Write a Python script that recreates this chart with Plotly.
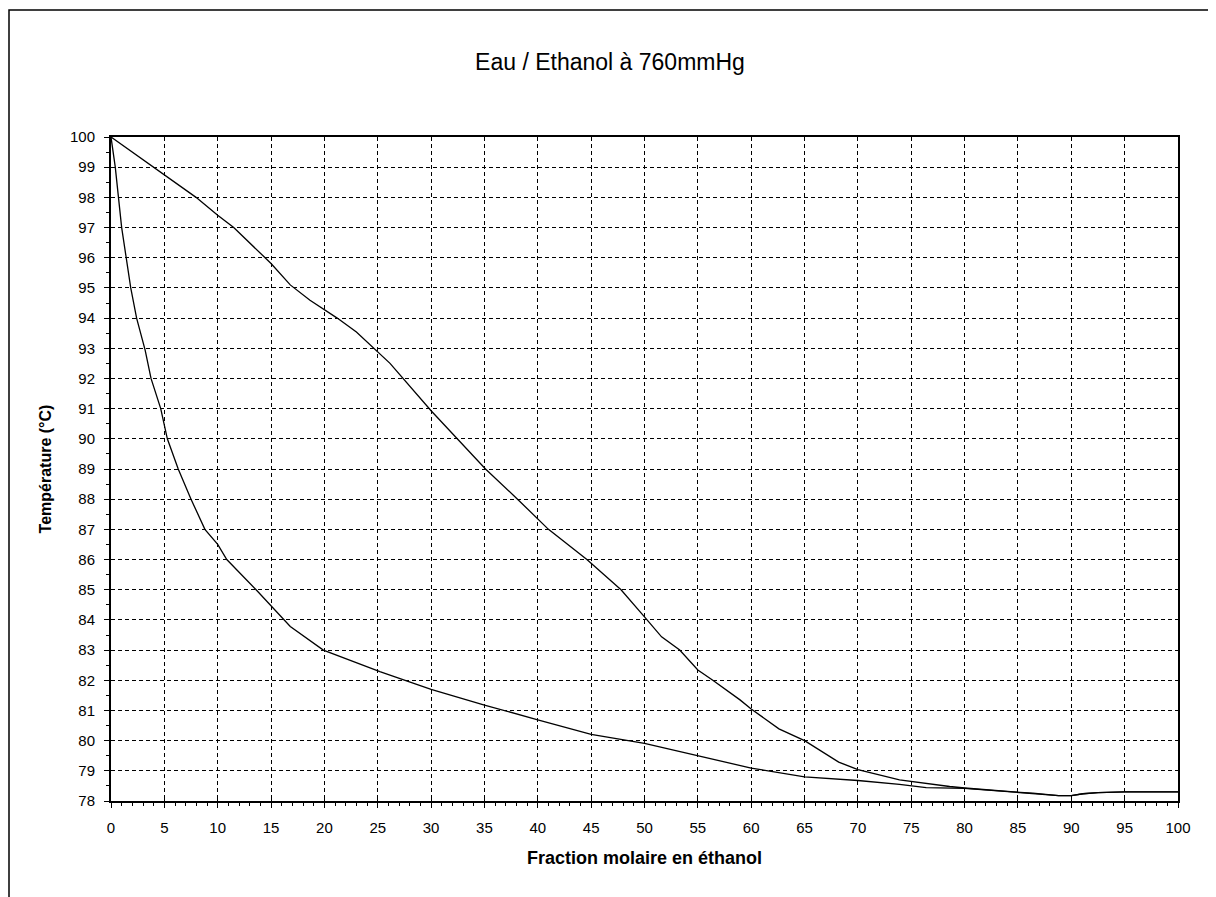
import plotly.graph_objects as go

# Liquid (bubble) curve: x = mole % ethanol, T in °C
liq_x = [0, 0.2, 0.4, 1.0, 1.85, 2.4, 3.2, 3.75, 4.66, 5.28, 6.3, 7.5, 8.8, 10.0, 10.85,
         13.6, 16.15, 16.8, 19.9, 25.2, 30, 35, 40, 45, 50, 55, 60, 65, 70, 73.9, 76.4,
         80, 84.6, 86.4, 88.8, 90, 91.1, 92.5, 95, 100]
liq_t = [100, 99.55, 99.0, 97.0, 95.0, 94.0, 92.94, 92.0, 91.0, 90.0, 89.0, 88.0, 87.0, 86.5, 86.0,
         85.0, 84.0, 83.78, 83.0, 82.29, 81.7, 81.18, 80.69, 80.21, 79.91, 79.49, 79.09, 78.8, 78.68, 78.55, 78.44,
         78.42, 78.3, 78.26, 78.18, 78.18, 78.24, 78.28, 78.3, 78.3]

# Vapour (dew) curve
vap_x = [0, 2.0, 5, 7.97, 10, 11.5, 15, 16.8, 18.65, 20, 21.2, 23.0, 25, 26.15, 30, 32.5,
         35.1, 38.1, 41.0, 44.6, 47.8, 50, 51.6, 53.3, 55, 56.4, 58.95, 60, 62.6, 65, 68.2,
         70, 73.9, 78.6, 80, 84.6, 86.4, 88.8, 90, 91.1, 92.5, 95, 100]
vap_t = [100, 99.5, 98.75, 98.0, 97.41, 97.0, 95.81, 95.1, 94.59, 94.28, 94.0, 93.54, 92.9, 92.5, 90.93, 90.0,
         89.0, 88.0, 87.0, 86.0, 85.0, 84.1, 83.44, 83.0, 82.34, 82.0, 81.35, 81.05, 80.39, 80.0, 79.29,
         79.04, 78.7, 78.48, 78.43, 78.3, 78.26, 78.18, 78.18, 78.24, 78.28, 78.3, 78.3]

title_text = "Eau / Ethanol à 760mmHg"
x_title = "Fraction molaire en éthanol"
y_title = "Température (°C)"

FONT = "Liberation Sans, Arial, sans-serif"

fig = go.Figure()
fig.add_trace(go.Scatter(x=liq_x, y=liq_t, mode="lines",
                         line=dict(color="black", width=1.3), showlegend=False))
fig.add_trace(go.Scatter(x=vap_x, y=vap_t, mode="lines",
                         line=dict(color="black", width=1.3), showlegend=False))
# invisible trace on overlay axes that carry the inner half of the "cross" major ticks
fig.add_trace(go.Scatter(x=[liq_x[0]], y=[liq_t[0]], xaxis="x2", yaxis="y2", mode="markers",
                         marker=dict(opacity=0), hoverinfo="skip", showlegend=False))

# page has an 8px body margin: figure sized/positioned to compensate
OFF = 8
W, H = 1216 - OFF, 897 - OFF
ml, mt = 111 - OFF, 137 - OFF
mr = W - (1178 - OFF)
mb = H - (801 - OFF)
pw, ph = W - ml - mr, H - mt - mb

fig.update_layout(
    width=W, height=H,
    margin=dict(l=ml, r=mr, t=mt, b=mb),
    paper_bgcolor="white", plot_bgcolor="white",
    font=dict(family=FONT, color="black"),
    title=dict(text=title_text, x=(610 - OFF) / W, xanchor="center",
               y=1 - (62 - OFF) / H, yanchor="middle", yref="container",
               font=dict(size=23, family=FONT, color="black")),
    xaxis=dict(range=[0, 100], dtick=5, tick0=0, showgrid=True,
               gridcolor="black", gridwidth=1, griddash="4px,3px",
               showline=True, linecolor="black", linewidth=2, mirror=True,
               ticks="outside", ticklen=5, tickcolor="black", tickwidth=1,
               minor=dict(dtick=1, ticks="outside", ticklen=3, tickcolor="black", showgrid=False),
               tickfont=dict(size=15, family=FONT), ticklabelstandoff=7,
               title=dict(text="<b>" + x_title + "</b>", font=dict(size=18, family=FONT), standoff=16),
               zeroline=False),
    yaxis=dict(range=[78, 100], dtick=1, tick0=78, showgrid=True,
               gridcolor="black", gridwidth=1, griddash="4px,3px",
               showline=True, linecolor="black", linewidth=2, mirror=True,
               ticks="outside", ticklen=5, tickcolor="black", tickwidth=1,
               minor=dict(dtick=0.5, ticks="outside", ticklen=3, tickcolor="black", showgrid=False),
               tickfont=dict(size=15, family=FONT), ticklabelstandoff=6,
               title=dict(text="<b>" + y_title + "</b>", font=dict(size=16, family=FONT), standoff=14),
               zeroline=False),
    xaxis2=dict(range=[0, 100], dtick=5, tick0=0, overlaying="x", side="bottom",
                showgrid=False, showline=False, zeroline=False, showticklabels=False,
                ticks="inside", ticklen=4, tickcolor="black", tickwidth=1, anchor="y2"),
    yaxis2=dict(range=[78, 100], dtick=1, tick0=78, overlaying="y", side="left",
                showgrid=False, showline=False, zeroline=False, showticklabels=False,
                ticks="inside", ticklen=4, tickcolor="black", tickwidth=1, anchor="x2"),
)

# outer chart-area frame (top and left visible, right/bottom beyond the image)
x0 = (1 - ml) / pw
x1 = (W + 10 - ml) / pw
y0 = (mt + ph - (H + 10)) / ph
y1 = (mt + ph - (10 - OFF)) / ph
fig.add_shape(type="rect", xref="paper", yref="paper", x0=x0, x1=x1, y0=y0, y1=y1,
              line=dict(color="black", width=1.5), layer="below")

fig.write_html("out.html")
